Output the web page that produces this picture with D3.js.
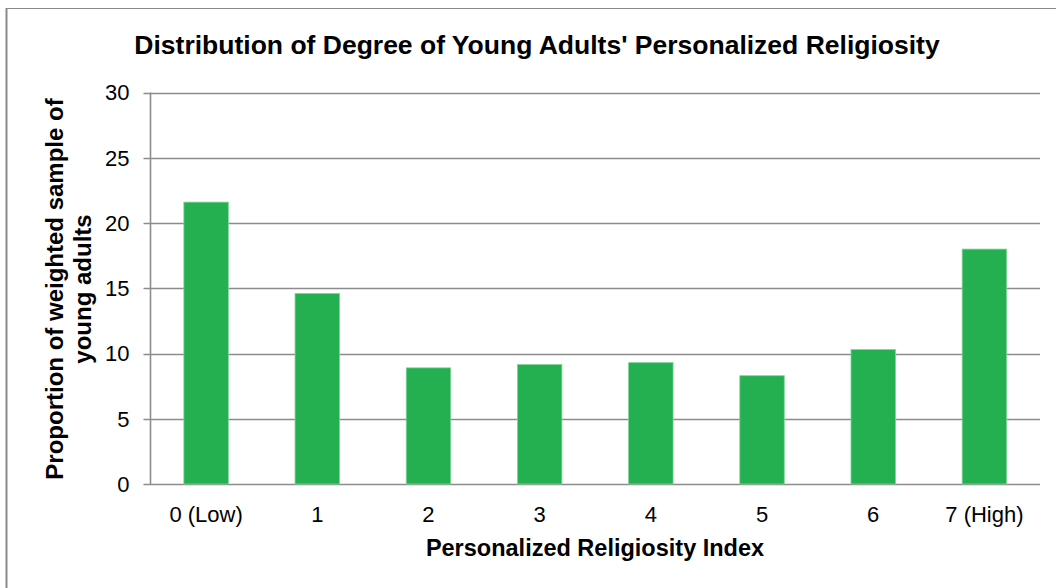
<!DOCTYPE html>
<html>
<head>
<meta charset="utf-8">
<script src="https://cdn.jsdelivr.net/npm/d3@7"></script>
<style>
  body { margin: 0; background: #fff; }
  svg { display: block; font-family: "Liberation Sans", Arial, sans-serif; }
</style>
</head>
<body>
<svg width="1056" height="588"></svg>
<script>
// chart data
var categories = ["0 (Low)", "1", "2", "3", "4", "5", "6", "7 (High)"];
var proportions = [21.6, 14.6, 8.9, 9.15, 9.3, 8.3, 10.3, 18.0];
var yTicks = [0, 5, 10, 15, 20, 25, 30];

var svg = d3.select("svg"),
    width = +svg.attr("width"),
    height = +svg.attr("height");

var margin = {top: 92.5, right: 16, bottom: 104, left: 150.5};

// outer frame (left + top only)
svg.append("line")
    .attr("x1", 6).attr("x2", 1056).attr("y1", 8.5).attr("y2", 8.5)
    .attr("stroke", "#8a8a8a").attr("stroke-width", 1);
svg.append("line")
    .attr("x1", 6.5).attr("x2", 6.5).attr("y1", 8).attr("y2", 588)
    .attr("stroke", "#8a8a8a").attr("stroke-width", 2);

var x = d3.scaleBand()
    .domain(categories)
    .range([margin.left, width - margin.right])
    .paddingInner(0.6)
    .paddingOuter(0.3);

var y = d3.scaleLinear()
    .domain([0, 30])
    .range([height - margin.bottom, margin.top]);

// gridlines
svg.append("g")
    .selectAll("line")
    .data(yTicks)
    .enter()
    .append("line")
    .attr("x1", margin.left - 7)
    .attr("x2", width - margin.right)
    .attr("y1", function (d) { return Math.round(y(d)) + 0.5; })
    .attr("y2", function (d) { return Math.round(y(d)) + 0.5; })
    .attr("stroke", "#8c8c8c")
    .attr("stroke-width", 1.6);

// bars
svg.append("g")
    .selectAll("rect")
    .data(proportions)
    .enter()
    .append("rect")
    .attr("x", function (d, i) { return x(categories[i]); })
    .attr("y", function (d) { return y(d); })
    .attr("width", x.bandwidth())
    .attr("height", function (d) { return y(0) - y(d); })
    .attr("fill", "#24b050")
    .attr("stroke", "#7fd49a")
    .attr("stroke-width", 0.8);

// y axis line
svg.append("line")
    .attr("x1", margin.left).attr("x2", margin.left)
    .attr("y1", y(30)).attr("y2", y(0))
    .attr("stroke", "#8c8c8c")
    .attr("stroke-width", 1.6);

// y tick labels
svg.append("g")
    .selectAll("text")
    .data(yTicks)
    .enter()
    .append("text")
    .attr("x", margin.left - 21)
    .attr("y", function (d) { return y(d); })
    .attr("dy", "0.36em")
    .attr("text-anchor", "end")
    .style("font-size", "22px")
    .style("fill", "#000")
    .text(function (d) { return d; });

// x tick labels
svg.append("g")
    .selectAll("text")
    .data(categories)
    .enter()
    .append("text")
    .attr("x", function (d) { return x(d) + x.bandwidth() / 2; })
    .attr("y", y(0) + 38)
    .attr("text-anchor", "middle")
    .style("font-size", "22px")
    .text(function (d) { return d; });

// title
svg.append("text")
    .attr("x", 537)
    .attr("y", 54)
    .attr("text-anchor", "middle")
    .style("font-size", "26.5px")
    .style("font-weight", "bold")
    .text("Distribution of Degree of Young Adults' Personalized Religiosity");

// x axis title
svg.append("text")
    .attr("x", 595)
    .attr("y", 556)
    .attr("text-anchor", "middle")
    .style("font-size", "23.5px")
    .style("font-weight", "bold")
    .text("Personalized Religiosity Index");

// y axis title (two lines)
var yTitle = svg.append("text")
    .attr("transform", "translate(0,289) rotate(-90)")
    .attr("text-anchor", "middle")
    .style("font-size", "24px")
    .style("font-weight", "bold");
yTitle.append("tspan").attr("x", 0).attr("y", 63).text("Proportion of weighted sample of");
yTitle.append("tspan").attr("x", 0).attr("y", 91).text("young adults");
</script>
</body>
</html>
